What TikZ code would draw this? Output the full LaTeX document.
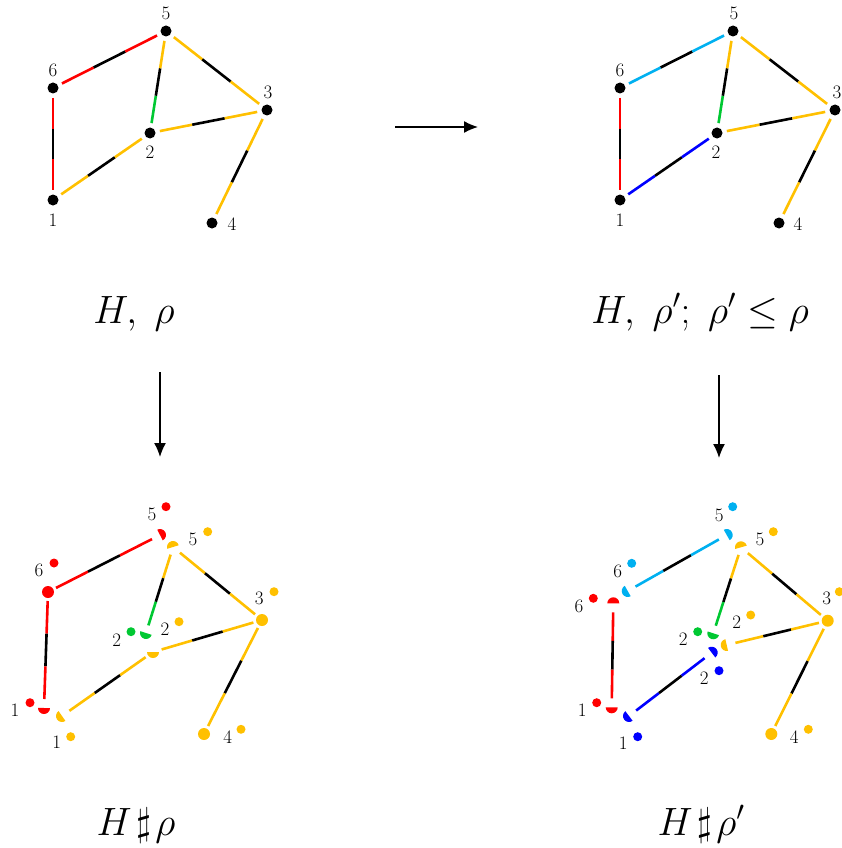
\documentclass[tikz,border=0pt]{standalone}
\usepackage{fix-cm}
\usetikzlibrary{calc,arrows.meta}
\definecolor{cred}{RGB}{255,0,0}
\definecolor{cyel}{RGB}{255,192,0}
\definecolor{cgrn}{RGB}{0,200,50}
\definecolor{ccyn}{RGB}{0,176,240}
\definecolor{cblu}{RGB}{0,0,255}
\tikzset{
  v/.style={circle,fill=black,inner sep=0pt,minimum size=11pt},
  bv/.style={circle,inner sep=0pt,minimum size=12pt},
  sd/.style={circle,inner sep=0pt,minimum size=9pt},
  lab/.style={inner sep=0pt,font=\fontsize{19}{22}\selectfont},
  big/.style={inner sep=0pt,anchor=base,font=\fontsize{39.5}{46}\selectfont},
  seg/.style={line width=2.6pt},
  arr/.style={line width=1.4pt,-{Latex[length=14pt,width=12pt]}},
}
\newcommand\tri[5]{%
  \path ($(#1)!#5!(#2)$) coordinate (tp) ($(#2)!#5!(#1)$) coordinate (tq);
  \draw[seg,#3] (tp) -- ($(tp)!1/3!(tq)$);
  \draw[seg,black] ($(tp)!1/3!(tq)$) -- ($(tp)!2/3!(tq)$);
  \draw[seg,#4] ($(tp)!2/3!(tq)$) -- (tq);
}
\newcommand\piece[3]{\fill[#2] (#1) ++(#3-90:6pt) arc[start angle=#3-90, delta angle=180, radius=6pt] -- cycle;}
\begin{document}
\begin{tikzpicture}[x=1pt,y=-1pt]
\useasboundingbox (0,0) rectangle (841,848);
% ---------- top left: H, rho
\node[v] (a5) at (166,31) {};
\node[v] (a6) at (53,88) {};
\node[v] (a3) at (267,110) {};
\node[v] (a2) at (150,133) {};
\node[v] (a1) at (53,200) {};
\node[v] (a4) at (212,223) {};
\node[lab] (a5l) at (166,13) {5};
\node[lab] (a6l) at (53,70) {6};
\node[lab] (a3l) at (268,92) {3};
\node[lab] (a2l) at (150,152) {2};
\node[lab] (a1l) at (53,220) {1};
\node[lab] (a4l) at (232,224) {4};
\tri{a6}{a5}{cred}{cred}{10pt}
\tri{a6}{a1}{cred}{cred}{10pt}
\tri{a1}{a2}{cyel}{cyel}{10pt}
\tri{a2}{a5}{cgrn}{cyel}{10pt}
\tri{a2}{a3}{cyel}{cyel}{10pt}
\tri{a5}{a3}{cyel}{cyel}{10pt}
\tri{a3}{a4}{cyel}{cyel}{10pt}
% ---------- top right: H, rho'
\node[v] (b5) at (733,31) {};
\node[v] (b6) at (620,88) {};
\node[v] (b3) at (835,110) {};
\node[v] (b2) at (717,133) {};
\node[v] (b1) at (620,200) {};
\node[v] (b4) at (779,223) {};
\node[lab] (b5l) at (734,13) {5};
\node[lab] (b6l) at (620,70) {6};
\node[lab] (b3l) at (837,92) {3};
\node[lab] (b2l) at (716,152) {2};
\node[lab] (b1l) at (620,220) {1};
\node[lab] (b4l) at (798,224) {4};
\tri{b6}{b5}{ccyn}{ccyn}{10pt}
\tri{b6}{b1}{cred}{cred}{10pt}
\tri{b1}{b2}{cblu}{cblu}{10pt}
\tri{b2}{b5}{cgrn}{cyel}{10pt}
\tri{b2}{b3}{cyel}{cyel}{10pt}
\tri{b5}{b3}{cyel}{cyel}{10pt}
\tri{b3}{b4}{cyel}{cyel}{10pt}
% ---------- arrows
\coordinate (h1) at (395,127);
\coordinate (h2) at (478,127);
\coordinate (l1) at (160,372);
\coordinate (l2) at (160,457);
\coordinate (r1) at (719,375);
\coordinate (r2) at (719,458);
\draw[arr] (h1) -- (h2);
\draw[arr] (l1) -- (l2);
\draw[arr] (r1) -- (r2);
% ---------- captions
\node[big] (capa) at (134,323) {$H,\;\rho$};
\node[big] (capb) at (700,323) {$H,\;\rho';\;\rho'\leq\rho$};
\node[big] (capc) at (136,835) {$H\mkern2mu\sharp\mkern2mu\rho$};
\node[big] (capd) at (701,835) {$H\mkern2mu\sharp\mkern2mu\rho'$};
% ---------- bottom left: H # rho
\node[bv,fill=cred] (c6) at (48,592) {};
\node[bv,fill=cyel] (c3) at (262,620) {};
\node[bv,fill=cyel] (c4) at (204,734) {};
\coordinate (c5r) at (160,535);
\coordinate (c5y) at (173,547);
\coordinate (c2g) at (146,633);
\coordinate (c2y) at (153,652);
\coordinate (c1r) at (44,708);
\coordinate (c1y) at (62,716);
\piece{c5r}{cred}{27}
\piece{c5y}{cyel}{107}
\piece{c2g}{cgrn}{252}
\piece{c2y}{cyel}{270}
\piece{c1r}{cred}{268}
\piece{c1y}{cyel}{215}
\tri{c6}{c5r}{cred}{cred}{9pt}
\tri{c6}{c1r}{cred}{cred}{9pt}
\tri{c1y}{c2y}{cyel}{cyel}{9pt}
\tri{c5y}{c2g}{cyel}{cgrn}{8pt}
\tri{c2y}{c3}{cyel}{cyel}{9pt}
\tri{c5y}{c3}{cyel}{cyel}{9pt}
\tri{c3}{c4}{cyel}{cyel}{9pt}
\node[lab] (c6l) at (39,570) {6};
\node[sd,fill=cred] (c6d) at (54,563) {};
\node[lab] (c5rl) at (152,514) {5};
\node[sd,fill=cred] (c5rd) at (166,506.7) {};
\node[lab] (c5yl) at (193,539.3) {5};
\node[sd,fill=cyel] (c5yd) at (207.7,531.7) {};
\node[lab] (c2gl) at (116.7,640) {2};
\node[sd,fill=cgrn] (c2gd) at (131,631.7) {};
\node[lab] (c2yl) at (165,629.3) {2};
\node[sd,fill=cyel] (c2yd) at (179,621.7) {};
\node[lab] (c3l) at (259.3,598.3) {3};
\node[sd,fill=cyel] (c3d) at (274,591.7) {};
\node[lab] (c4l) at (227.7,737.3) {4};
\node[sd,fill=cyel] (c4d) at (241,729.3) {};
\node[lab] (c1rl) at (15,710.7) {1};
\node[sd,fill=cred] (c1rd) at (30,702.7) {};
\node[lab] (c1yl) at (56.7,742.7) {1};
\node[sd,fill=cyel] (c1yd) at (70.7,736.7) {};
% ---------- bottom right: H # rho'
\node[bv,fill=cyel] (d3) at (827.7,620.7) {};
\node[bv,fill=cyel] (d4) at (771.3,734) {};
\coordinate (d5c) at (726.7,535);
\coordinate (d5y) at (741,547.3);
\coordinate (d6c) at (627.7,591);
\coordinate (d6r) at (613.3,603.3);
\coordinate (d2g) at (713.3,633.3);
\coordinate (d2y) at (726.7,645);
\coordinate (d2b) at (711.7,652.7);
\coordinate (d1r) at (611.7,707.3);
\coordinate (d1b) at (629,716);
\piece{d5c}{ccyn}{29.5}
\piece{d5y}{cyel}{106}
\piece{d6c}{ccyn}{209.5}
\piece{d6r}{cred}{90}
\piece{d2g}{cgrn}{252}
\piece{d2y}{cyel}{193}
\piece{d2b}{cblu}{37}
\piece{d1r}{cred}{270}
\piece{d1b}{cblu}{217}
\tri{d6c}{d5c}{ccyn}{ccyn}{9pt}
\tri{d6r}{d1r}{cred}{cred}{9pt}
\tri{d1b}{d2b}{cblu}{cblu}{9pt}
\tri{d5y}{d2g}{cyel}{cgrn}{8pt}
\tri{d2y}{d3}{cyel}{cyel}{9pt}
\tri{d5y}{d3}{cyel}{cyel}{9pt}
\tri{d3}{d4}{cyel}{cyel}{9pt}
\node[lab] (d5cl) at (719.3,515) {5};
\node[sd,fill=ccyn] (d5cd) at (732.7,506.7) {};
\node[lab] (d5yl) at (760,539.3) {5};
\node[sd,fill=cyel] (d5yd) at (773.3,531.7) {};
\node[lab] (d6cl) at (617.7,571.7) {6};
\node[sd,fill=ccyn] (d6cd) at (631.7,563.3) {};
\node[lab] (d6rl) at (579,606) {6};
\node[sd,fill=cred] (d6rd) at (593.3,598.3) {};
\node[lab] (d2gl) at (683.3,639.3) {2};
\node[sd,fill=cgrn] (d2gd) at (697.7,631.7) {};
\node[lab] (d2yl) at (736.7,622.7) {2};
\node[sd,fill=cyel] (d2yd) at (750.7,615) {};
\node[lab] (d2bl) at (704.3,678.3) {2};
\node[sd,fill=cblu] (d2bd) at (719,670.7) {};
\node[lab] (d3l) at (826.7,598.3) {3};
\node[sd,fill=cyel] (d3d) at (839.3,591.7) {};
\node[lab] (d4l) at (794.3,736.7) {4};
\node[sd,fill=cyel] (d4d) at (808.3,729.3) {};
\node[lab] (d1rl) at (582.3,710.7) {1};
\node[sd,fill=cred] (d1rd) at (596.7,702.7) {};
\node[lab] (d1bl) at (623.3,743.3) {1};
\node[sd,fill=cblu] (d1bd) at (637.7,736.7) {};
\end{tikzpicture}
\end{document}
